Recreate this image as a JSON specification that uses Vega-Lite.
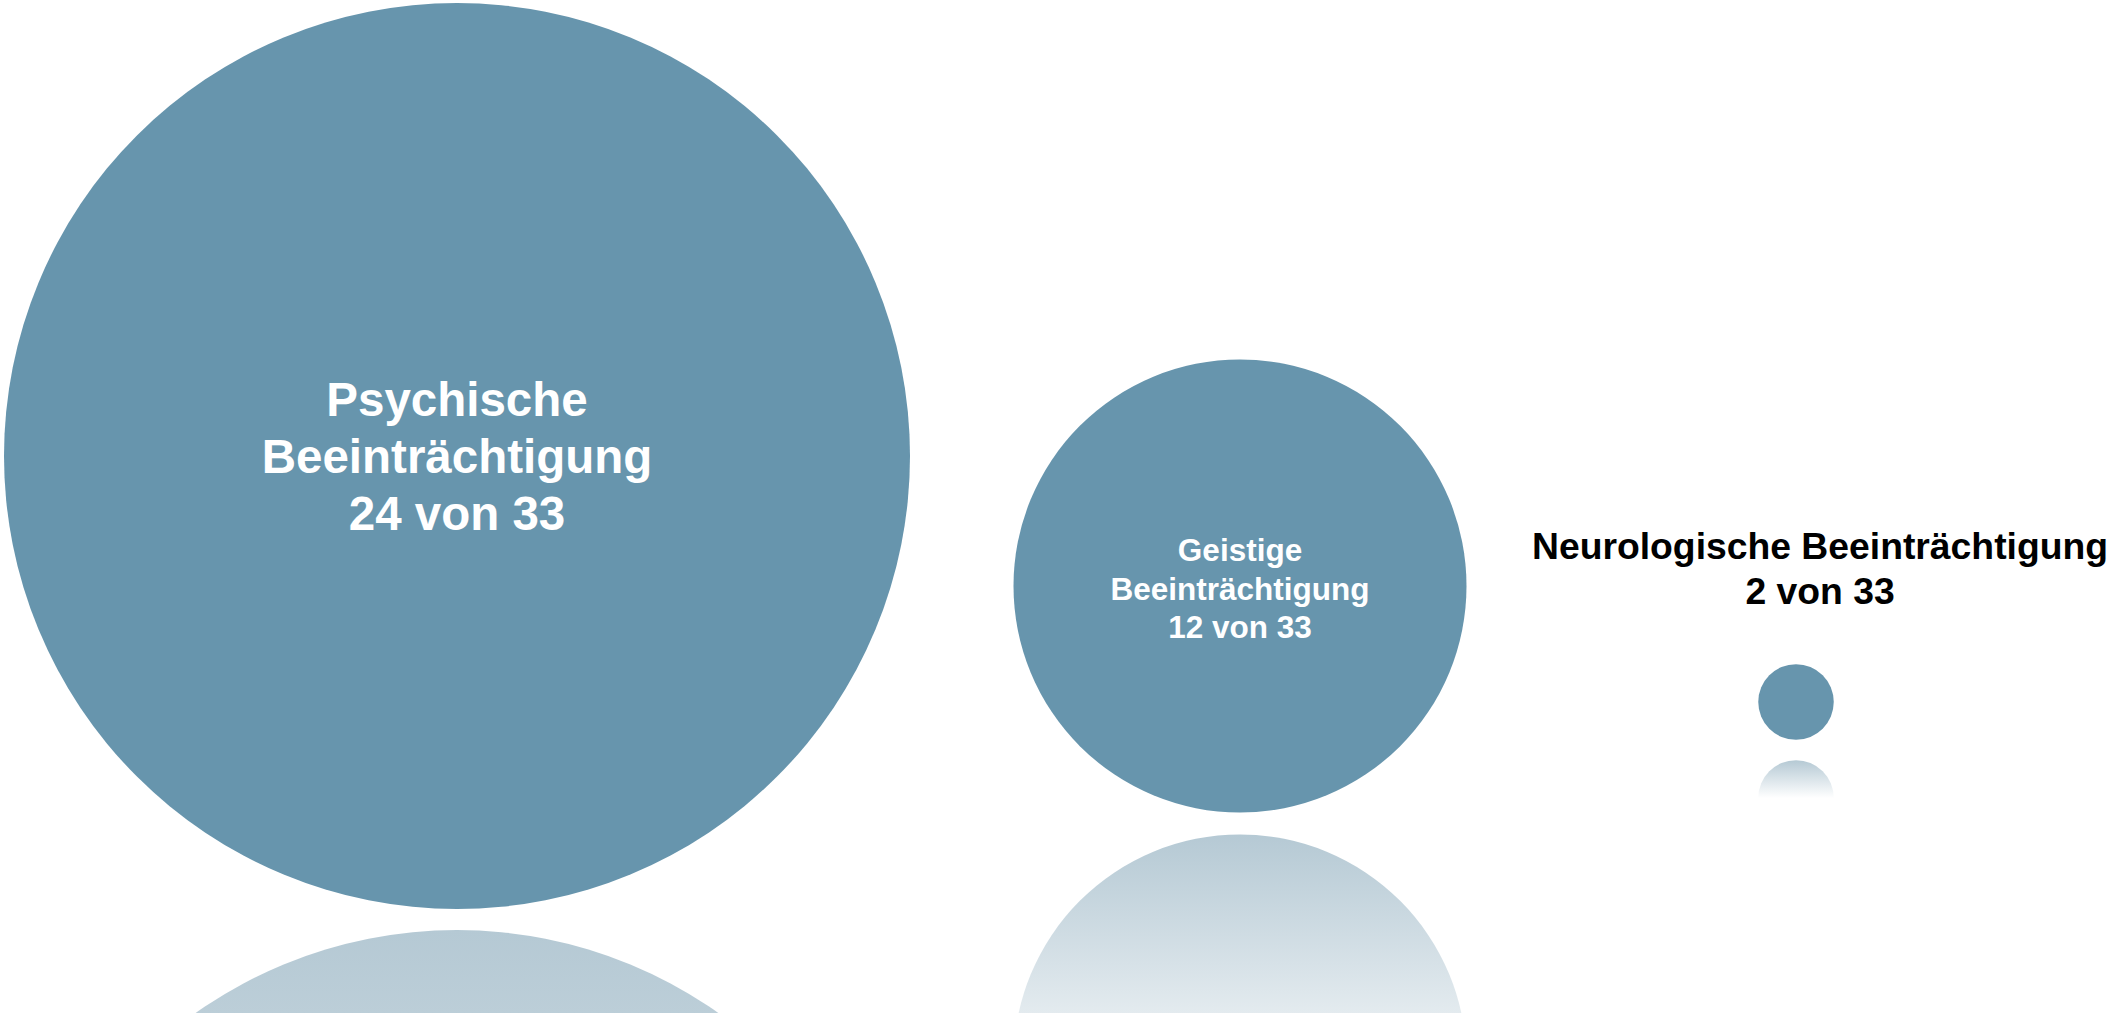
{
  "$schema": "https://vega.github.io/schema/vega-lite/v6.json",
  "width": 2108,
  "height": 1013,
  "autosize": {"type": "none"},
  "padding": 0,
  "background": "#ffffff",
  "config": {"view": {"stroke": null}},
  "data": {
    "values": [
      {"category": "Psychische Beeinträchtigung", "value": 24, "total": 33, "label": ["Psychische", "Beeinträchtigung", "24 von 33"]},
      {"category": "Geistige Beeinträchtigung", "value": 12, "total": 33, "label": ["Geistige", "Beeinträchtigung", "12 von 33"]},
      {"category": "Neurologische Beeinträchtigung", "value": 2, "total": 33, "label": ["Neurologische Beeinträchtigung", "2 von 33"]}
    ]
  },
  "resolve": {"scale": {"y": "independent"}},
  "layer": [
    {
      "transform": [{"filter": "datum.value == 24"}],
      "mark": {"type": "circle", "opacity": 1, "stroke": null,
        "fill": {"gradient": "linear", "x1": 0, "y1": 0, "x2": 0, "y2": 1,
          "stops": [{"offset": 0, "color": "#b5c9d4"}, {"offset": 1, "color": "#ffffff"}]}},
      "encoding": {
        "x": {"field": "value", "type": "quantitative", "axis": null, "scale": {"domain": [2, 12, 24], "range": [1796, 1240, 457], "nice": false, "zero": false}},
        "y": {"field": "value", "type": "quantitative", "axis": null, "scale": {"domain": [2, 12, 24], "range": [798, 1061, 1383], "nice": false, "zero": false}},
        "size": {"field": "value", "type": "quantitative", "legend": null, "scale": {"type": "pow", "exponent": 2, "domain": [0, 24], "range": [0, 820836]}}
      }
    },
    {
      "transform": [{"filter": "datum.value == 12"}],
      "mark": {"type": "circle", "opacity": 1, "stroke": null,
        "fill": {"gradient": "linear", "x1": 0, "y1": 0, "x2": 0, "y2": 1,
          "stops": [{"offset": 0, "color": "#b5c9d4"}, {"offset": 0.63, "color": "#ffffff"}, {"offset": 1, "color": "#ffffff"}]}},
      "encoding": {
        "x": {"field": "value", "type": "quantitative", "axis": null, "scale": {"domain": [2, 12, 24], "range": [1796, 1240, 457], "nice": false, "zero": false}},
        "y": {"field": "value", "type": "quantitative", "axis": null, "scale": {"domain": [2, 12, 24], "range": [798, 1061, 1383], "nice": false, "zero": false}},
        "size": {"field": "value", "type": "quantitative", "legend": null, "scale": {"type": "pow", "exponent": 2, "domain": [0, 24], "range": [0, 820836]}}
      }
    },
    {
      "transform": [{"filter": "datum.value == 2"}],
      "mark": {"type": "circle", "opacity": 1, "stroke": null,
        "fill": {"gradient": "linear", "x1": 0, "y1": 0, "x2": 0, "y2": 1,
          "stops": [{"offset": 0, "color": "#b5c9d4"}, {"offset": 0.5, "color": "#ffffff"}, {"offset": 1, "color": "#ffffff"}]}},
      "encoding": {
        "x": {"field": "value", "type": "quantitative", "axis": null, "scale": {"domain": [2, 12, 24], "range": [1796, 1240, 457], "nice": false, "zero": false}},
        "y": {"field": "value", "type": "quantitative", "axis": null, "scale": {"domain": [2, 12, 24], "range": [798, 1061, 1383], "nice": false, "zero": false}},
        "size": {"field": "value", "type": "quantitative", "legend": null, "scale": {"type": "pow", "exponent": 2, "domain": [0, 24], "range": [0, 820836]}}
      }
    },
    {
      "mark": {"type": "circle", "opacity": 1, "color": "#6795ad", "stroke": null},
      "encoding": {
        "x": {"field": "value", "type": "quantitative", "axis": null, "scale": {"domain": [2, 12, 24], "range": [1796, 1240, 457], "nice": false, "zero": false}},
        "y": {"field": "value", "type": "quantitative", "axis": null, "scale": {"domain": [2, 12, 24], "range": [702, 586, 456], "nice": false, "zero": false}},
        "size": {"field": "value", "type": "quantitative", "legend": null, "scale": {"type": "pow", "exponent": 2, "domain": [0, 24], "range": [0, 820836]}}
      }
    },
    {
      "transform": [{"filter": "datum.value == 24"}],
      "mark": {"type": "text", "font": "Liberation Sans", "fontWeight": "bold", "fontSize": 47.5, "lineHeight": 57, "color": "#ffffff", "align": "center", "baseline": "middle", "dy": -54},
      "encoding": {
        "x": {"field": "value", "type": "quantitative", "axis": null, "scale": {"domain": [2, 12, 24], "range": [1796, 1240, 457], "nice": false, "zero": false}},
        "y": {"field": "value", "type": "quantitative", "axis": null, "scale": {"domain": [2, 12, 24], "range": [702, 586, 456], "nice": false, "zero": false}},
        "text": {"field": "label", "type": "nominal"}
      }
    },
    {
      "transform": [{"filter": "datum.value == 12"}],
      "mark": {"type": "text", "font": "Liberation Sans", "fontWeight": "bold", "fontSize": 31.5, "lineHeight": 38.5, "color": "#ffffff", "align": "center", "baseline": "middle", "dy": -34},
      "encoding": {
        "x": {"field": "value", "type": "quantitative", "axis": null, "scale": {"domain": [2, 12, 24], "range": [1796, 1240, 457], "nice": false, "zero": false}},
        "y": {"field": "value", "type": "quantitative", "axis": null, "scale": {"domain": [2, 12, 24], "range": [702, 586, 456], "nice": false, "zero": false}},
        "text": {"field": "label", "type": "nominal"}
      }
    },
    {
      "transform": [{"filter": "datum.value == 2"}],
      "mark": {"type": "text", "font": "Liberation Sans", "fontWeight": "bold", "fontSize": 37.3, "lineHeight": 45, "color": "#000000", "align": "center", "baseline": "middle", "dx": 24, "dy": -154},
      "encoding": {
        "x": {"field": "value", "type": "quantitative", "axis": null, "scale": {"domain": [2, 12, 24], "range": [1796, 1240, 457], "nice": false, "zero": false}},
        "y": {"field": "value", "type": "quantitative", "axis": null, "scale": {"domain": [2, 12, 24], "range": [702, 586, 456], "nice": false, "zero": false}},
        "text": {"field": "label", "type": "nominal"}
      }
    }
  ]
}
